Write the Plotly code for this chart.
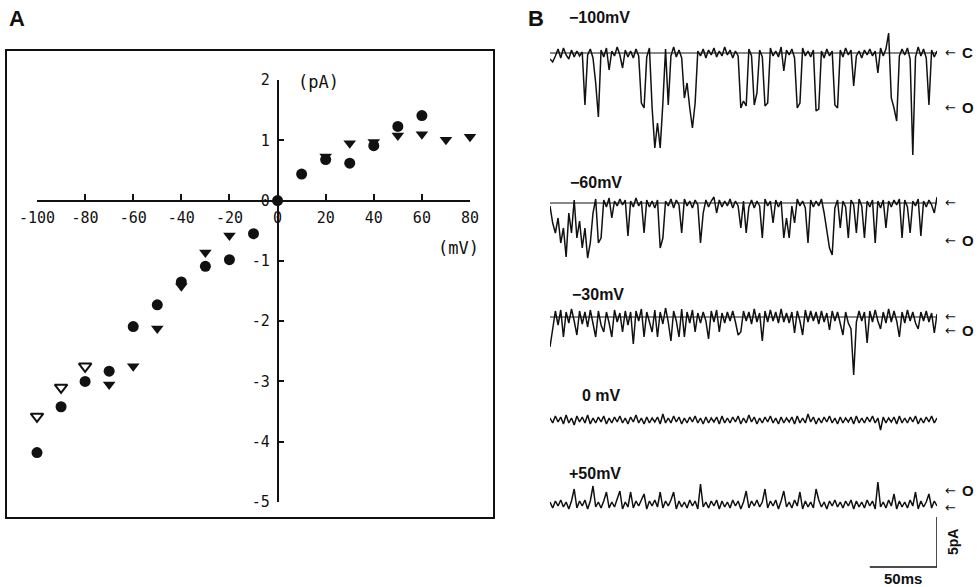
import plotly.graph_objects as go

W, H = 977, 587

def px(x):
    return x / W

def py(y):
    return 1 - y / H

# ---------------- Panel A data (I-V relation) ----------------
v_circle = [-100, -90, -80, -70, -60, -50, -40, -30, -20, -10, 0, 10, 20, 30, 40, 50, 60]
i_circle = [-4.18, -3.42, -3.00, -2.83, -2.09, -1.73, -1.35, -1.09, -0.98, -0.55, 0.0,
            0.44, 0.68, 0.62, 0.91, 1.23, 1.41]
v_tri = [-70, -60, -50, -40, -30, -20, 20, 30, 40, 50, 60, 70, 80]
i_tri = [-3.05, -2.75, -2.12, -1.42, -0.86, -0.58, 0.73, 0.95, 0.97, 1.08, 1.10, 1.01, 1.06]
v_open = [-100, -90, -80]
i_open = [-3.58, -3.10, -2.75]

x_tickvals = [-100, -80, -60, -40, -20, 0, 20, 40, 60, 80]
x_ticktext = ["-100", "-80", "-60", "-40", "-20", "0", "20", "40", "60", "80"]
y_tickvals = [2, 1, 0, -1, -2, -3, -4, -5]
y_ticktext = ["2", "1", "0", "-1", "-2", "-3", "-4", "-5"]

# ---------------- Panel B data (single-channel currents, pA, 2 ms samples) ----------------
trace_labels = ["\u2212100mV", "\u221260mV", "\u221230mV", "0 mV", "+50mV"]

cur_m100 = [-0.6, -0.9, -0.3, 0.4, -0.5, 0.5, -0.2, -0.6, 0.3, -0.4,
            0.2, -0.3, 0.1, -5.2, -0.2, 0.4, -0.5, -3.0, -6.4, 0.3,
            -0.4, 0.5, -1.7, 0.2, -0.3, 0.6, -0.2, -1.5, 0.3, -0.4,
            0.2, -0.5, 0.4, -0.3, -5.0, -5.5, -0.4, 0.5, -5.5, -9.5,
            -7.0, -9.5, -5.0, 0.4, -5.2, -0.3, 0.6, -0.4, 0.3, -0.5,
            -4.5, -3.0, -5.5, -7.5, -5.0, 0.2, -0.3, 0.4, -0.5, 0.3,
            -0.2, 0.5, -0.4, 0.2, -0.3, 0.6, -0.2, 0.3, -0.5, 0.2,
            -0.3, -5.5, -4.8, -5.3, 0.4, -0.3, -5.2, -4.0, 0.3, -0.4,
            -5.3, -5.0, 0.5, -0.3, 0.2, -0.4, 0.6, -1.8, 0.3, -0.2,
            0.4, -0.5, -5.5, -5.0, 0.5, -0.3, 0.2, -0.4, 0.3, -5.8,
            -5.6, 0.2, -0.5, 0.4, -0.3, 0.2, -5.2, -5.5, 0.3, -0.4,
            0.5, -0.2, 0.3, -3.3, -0.3, 0.2, -0.5, 0.3, -0.2, 0.4,
            -0.3, 0.2, -2.0, 0.5, -0.3, 0.4, 2.0, -4.5, -5.5, -6.8,
            -0.3, 0.4, -0.2, 0.5, -0.6, -10.2, -0.4, 0.6, -0.3, 0.4,
            -0.5, -5.2, 0.3, -0.4, 0.2]

cur_m60 = [-0.3, -2.0, -3.0, -1.5, -4.0, -2.5, -5.4, -1.0, -3.0, 0.3,
           -3.5, -1.8, -4.5, -2.5, -5.5, -4.0, -1.0, 0.4, -4.0, -3.5,
           0.3, -0.4, 0.5, -1.5, 0.2, -0.3, 0.4, -0.2, 0.3, -3.3,
           0.2, -0.4, 0.5, -0.3, 0.2, -3.0, 0.3, -0.4, 0.2, -0.5,
           0.3, -4.5, -3.5, 0.2, -0.3, 0.4, -0.5, 0.3, -0.2, -3.0,
           0.4, -0.3, 0.2, -0.5, 0.3, -0.2, -4.0, -1.0, 0.3, -0.4,
           0.2, 0.6, -1.0, 0.3, -0.4, 0.2, -0.3, 0.4, -0.5, 0.2,
           -0.3, -2.5, 0.2, -3.0, -0.4, 0.3, -0.5, 0.2, -0.3, -3.5,
           0.4, -0.3, 0.2, -2.0, 0.3, -0.4, 0.2, -3.5, -1.5, -3.5,
           -0.3, -2.0, 0.4, -0.3, 0.2, -0.5, -4.0, 0.3, -0.4, 0.2,
           -0.3, 0.4, -1.0, -3.0, -4.5, -5.2, -0.5, 0.3, -2.5, 0.2,
           -0.4, -3.5, 0.3, -0.2, -3.0, 0.4, -0.3, -3.5, 0.2, -0.4,
           0.3, -4.0, 0.2, -0.5, 0.3, -2.5, 0.2, -0.4, 0.3, -0.2,
           0.4, -3.5, 0.3, -0.4, -3.0, 0.2, -0.3, 0.4, -3.3, 0.2,
           -0.4, 0.3, -0.2, -1.0, 0.6]

cur_m30 = [-3.0, -1.0, 0.6, -0.8, 0.7, -2.0, 0.5, -0.6, 0.8, -0.4,
           -1.8, 0.6, -0.7, 0.5, -1.0, 0.7, -0.5, -2.0, 0.6, -0.8,
           -1.5, 0.5, -0.6, -2.0, 0.7, -0.5, 0.4, -1.5, 0.6, -0.8,
           0.5, -2.7, 0.6, -0.4, 0.8, -2.0, 0.5, -0.6, -1.5, 0.7,
           -2.0, 0.5, -0.7, 0.9, -0.5, -2.4, 0.6, -0.4, -2.0, 0.8,
           -2.0, 0.5, -0.6, 0.7, -1.5, 0.4, -0.6, 0.5, -0.4, -2.2,
           0.6, -0.5, 0.7, -1.5, 0.4, -0.6, 0.5, -0.4, 0.6, -0.5,
           -1.8, -1.5, 0.6, -0.4, 0.5, -0.7, 0.8, -0.5, 0.4, -2.4,
           0.6, -0.5, 0.7, -0.4, 0.5, -0.6, 0.8, -0.5, 0.4, -0.6,
           0.5, -1.6, 0.6, -0.4, -1.8, 0.7, -0.5, 0.6, -0.4, 0.5,
           -0.7, 0.6, -0.5, 0.4, -1.3, 0.6, -0.4, 0.5, -0.8, -1.8,
           0.5, -0.6, -1.2, -5.8, -0.5, 0.6, -0.4, 0.5, -2.6, 0.6,
           -0.5, 0.7, -0.4, -1.2, 0.5, -0.6, 0.8, -0.5, 0.6, -0.4,
           -2.0, 0.5, -0.6, 0.7, -0.4, 0.5, -0.6, -1.2, 0.5, -0.4,
           0.6, -0.5, 0.4, -1.6, 0.3]

cur_0 = [0.2, -0.3, 0.4, -0.2, 0.3, -0.4, 0.5, -0.3, 0.2, -0.5, 0.4, -0.2, 0.3, -0.3, 0.5, -0.4, 0.2, -0.3, 0.3, -0.2,
         0.4, -0.4, 0.2, -0.3, 0.3, -0.2, 0.4, -0.3, 0.2, -0.4, 0.3, -0.2, 0.5, -0.3, 0.2, -0.4, 0.3, -0.3, 0.2, -0.2,
         0.3, -0.4, 0.6, -0.3, 0.2, -0.3, 0.4, -0.2, 0.3, -0.4, 0.2, -0.3, 0.3, -0.2, 0.4, -0.3, 0.2, -0.4, 0.3, -0.3,
         0.2, -0.2, 0.3, -0.4, 0.4, -0.3, 0.2, -0.3, 0.3, -0.2, 0.4, -0.4, 0.2, -0.3, 0.5, -0.2, 0.3, -0.4, 0.2, -0.3,
         0.3, -0.2, 0.4, -0.3, 0.2, -0.4, 0.3, -0.3, 0.2, -0.2, 0.3, -0.4, 0.4, -0.3, 0.2, -0.3, 0.6, -0.2, 0.3, -0.4,
         0.2, -0.3, 0.3, -0.2, 0.4, -0.3, 0.2, -0.4, 0.3, -0.3, 0.2, -0.2, 0.3, -0.4, 0.4, -0.3, 0.2, -0.3, 0.3, -0.2,
         0.4, -0.3, 0.2, -1.0, 0.3, -0.3, 0.2, -0.2, 0.3, -0.4, 0.4, -0.3, 0.2, -0.3, 0.3, -0.2, 0.4, -0.4, 0.2, -0.3,
         0.3, -0.2, 0.4, -0.3, 0.2]

cur_p50 = [0.2, -0.4, 0.3, -0.2, 0.4, -0.3, 0.2, -0.5, 0.3, 1.5, -0.4, 0.3, -0.2, 0.4, -0.5, 0.3, 1.8, -0.3, 0.2, -0.4,
           0.3, 1.2, -0.4, 0.2, -0.3, 0.4, 1.3, -0.5, 0.2, -0.3, 1.2, -0.4, 0.3, -0.2, 0.4, 1.0, -0.5, 0.3, -0.2, 0.4,
           -0.3, 1.2, -0.4, 0.3, -0.2, 0.4, 1.2, -0.5, 0.3, -0.3, 0.2, -0.4, 0.4, -0.2, 0.3, -0.5, 2.0, -0.3, 0.2, -0.4,
           0.3, -0.2, 0.4, -0.5, 0.3, -0.3, 0.2, -0.4, 0.4, -0.2, 0.3, -0.5, 0.2, 1.3, -0.4, 0.3, -0.2, 0.4, -0.3, 0.2,
           1.5, -0.4, 0.3, -0.2, 0.4, -0.5, 0.3, 1.3, -0.3, 0.2, -0.4, 0.4, -0.2, 1.2, -0.5, 0.3, -0.3, 0.2, -0.4, 1.5,
           0.4, -0.3, 0.2, -0.5, 0.3, -0.2, 0.4, -0.3, 0.2, -0.4, 0.3, -0.2, 0.4, -0.5, 0.3, -0.3, 0.2, -0.4, 0.4, -0.2,
           0.3, -0.5, 2.2, -0.3, 0.2, -0.4, 0.4, -0.2, 1.0, -0.5, 0.3, -0.3, 0.2, -0.4, 0.4, -0.2, 1.2, -0.5, 0.3, -0.3,
           0.2, 1.0, -0.4, 0.3, -0.2]

SAMPLE_MS = 2
SCALE_MS = 50
SCALE_PA = 5

# layout constants (positions only)
trace_offsets = [-3.3, -18.3, -29.7, -40.0, -48.4]   # vertical stacking of traces (pA units on the hidden axis)
baseline_lines = [True, True, True, False, False]
label_px_y = [17, 182, 295, 395, 473]
label_px_x = [567, 568, 570, 580, 567]

BLACK = "#111111"
TICKFONT = dict(family="DejaVu Sans Mono", size=15, color=BLACK)

fig = go.Figure()

# ---- Panel A markers ----
fig.add_trace(go.Scatter(x=v_circle, y=i_circle, mode="markers", cliponaxis=False,
                         marker=dict(symbol="circle", size=11, color=BLACK, line=dict(width=0)),
                         xaxis="x", yaxis="y", showlegend=False))
fig.add_trace(go.Scatter(x=v_tri, y=i_tri, mode="markers", cliponaxis=False,
                         marker=dict(symbol="triangle-down", size=11, color=BLACK, line=dict(width=0)),
                         xaxis="x", yaxis="y", showlegend=False))
fig.add_trace(go.Scatter(x=v_open, y=i_open, mode="markers", cliponaxis=False,
                         marker=dict(symbol="triangle-down-open", size=11, color=BLACK, line=dict(width=2, color=BLACK)),
                         xaxis="x", yaxis="y", showlegend=False))

# ---- Panel B traces ----
currents = [cur_m100, cur_m60, cur_m30, cur_0, cur_p50]
for vals, off in zip(currents, trace_offsets):
    t = [i * SAMPLE_MS for i in range(len(vals))]
    fig.add_trace(go.Scatter(x=t, y=[v + off for v in vals], mode="lines",
                             line=dict(color=BLACK, width=1.5), xaxis="x2", yaxis="y2",
                             showlegend=False, hoverinfo="skip"))

t_end = (len(cur_m100) - 1) * SAMPLE_MS

# axes geometry
xdomA = [px(37), px(470)]
ydomA = [py(502), py(80)]
xr = [-100, 80]
yr = [-5, 2]
x_axis_pos = ydomA[0] + (0 - yr[0]) / (yr[1] - yr[0]) * (ydomA[1] - ydomA[0])
y_axis_pos = xdomA[0] + (0 - xr[0]) / (xr[1] - xr[0]) * (xdomA[1] - xdomA[0])

shapes = []
# frame of panel A
shapes.append(dict(type="rect", xref="paper", yref="paper", x0=px(6), x1=px(494), y0=py(518), y1=py(50),
                   line=dict(color=BLACK, width=2)))
# baseline (closed level) lines in panel B
for off, show in zip(trace_offsets, baseline_lines):
    if show:
        shapes.append(dict(type="line", xref="x2", yref="y2", x0=0, x1=t_end, y0=off, y1=off,
                           line=dict(color=BLACK, width=1)))
# scale bars
ybar_bottom = trace_offsets[-1] - 1.3
shapes.append(dict(type="line", xref="x2", yref="y2", x0=t_end, x1=t_end,
                   y0=ybar_bottom - SCALE_PA, y1=ybar_bottom, line=dict(color=BLACK, width=1.5)))
shapes.append(dict(type="line", xref="x2", yref="y2", x0=t_end - SCALE_MS, x1=t_end,
                   y0=ybar_bottom - SCALE_PA, y1=ybar_bottom - SCALE_PA, line=dict(color=BLACK, width=1.5)))

annotations = []
LBL = dict(family="Liberation Sans, Arial, sans-serif", size=16, color=BLACK)
annotations.append(dict(text="<b>A</b>", x=px(7), y=py(18), xref="paper", yref="paper", showarrow=False,
                        xanchor="left", yanchor="middle", font=dict(family="Liberation Sans, Arial", size=22, color=BLACK)))
annotations.append(dict(text="<b>B</b>", x=px(526), y=py(18), xref="paper", yref="paper", showarrow=False,
                        xanchor="left", yanchor="middle", font=dict(family="Liberation Sans, Arial", size=22, color=BLACK)))
annotations.append(dict(text="(pA)", x=px(296), y=py(82), xref="paper", yref="paper", showarrow=False,
                        xanchor="left", yanchor="middle", font=dict(family="DejaVu Sans Mono", size=17, color=BLACK)))
annotations.append(dict(text="(mV)", x=px(481), y=py(248), xref="paper", yref="paper", showarrow=False,
                        xanchor="right", yanchor="middle", font=dict(family="DejaVu Sans Mono", size=17, color=BLACK)))
for lab, lx, ly in zip(trace_labels, label_px_x, label_px_y):
    annotations.append(dict(text="<b>" + lab + "</b>", x=px(lx), y=py(ly), xref="paper", yref="paper",
                            showarrow=False, xanchor="left", yanchor="middle", font=LBL))
# level markers at the right of the traces: (letter, y px)
arrow_marks = [("C", 53), ("O", 107), ("", 203), ("O", 240),
               ("", 316), ("O", 330), ("O", 490), ("", 507)]
for letter, yy in arrow_marks:
    annotations.append(dict(text="\u2190", x=px(943), y=py(yy), xref="paper", yref="paper",
                            showarrow=False, xanchor="left", yanchor="middle",
                            font=dict(family="DejaVu Sans, sans-serif", size=13, color=BLACK)))
    if letter:
        annotations.append(dict(text="<b>" + letter + "</b>", x=px(960), y=py(yy), xref="paper", yref="paper",
                                showarrow=False, xanchor="left", yanchor="middle",
                                font=dict(family="Liberation Sans, Arial", size=15, color=BLACK)))
annotations.append(dict(text="<b>5pA</b>", x=t_end, y=ybar_bottom - SCALE_PA / 2, xref="x2", yref="y2",
                        xshift=16, showarrow=False, textangle=-90, xanchor="center", yanchor="middle",
                        font=dict(family="Liberation Sans, Arial", size=14, color=BLACK)))
annotations.append(dict(text="<b>50ms</b>", x=t_end - SCALE_MS / 2, y=ybar_bottom - SCALE_PA, xref="x2", yref="y2",
                        yshift=-11, showarrow=False, xanchor="center", yanchor="middle",
                        font=dict(family="Liberation Sans, Arial", size=15, color=BLACK)))

fig.update_layout(
    width=W, height=H,
    margin=dict(l=0, r=0, t=0, b=0),
    paper_bgcolor="white", plot_bgcolor="rgba(0,0,0,0)",
    showlegend=False,
    xaxis=dict(domain=xdomA, range=xr, anchor="free", position=x_axis_pos,
               showline=True, linecolor=BLACK, linewidth=1.5, ticks="inside", ticklen=6, tickwidth=1.5,
               tickcolor=BLACK, tickvals=x_tickvals, ticktext=x_ticktext, tickfont=TICKFONT,
               ticklabelstandoff=4,
               showgrid=False, zeroline=False, automargin=False, fixedrange=True),
    yaxis=dict(domain=ydomA, range=yr, anchor="free", position=y_axis_pos,
               showline=True, linecolor=BLACK, linewidth=1.5, ticks="inside", ticklen=6, tickwidth=1.5,
               tickcolor=BLACK, tickvals=y_tickvals, ticktext=y_ticktext, tickfont=TICKFONT,
               ticklabelstandoff=4,
               showgrid=False, zeroline=False, automargin=False, fixedrange=True),
    xaxis2=dict(domain=[px(550), px(937)], range=[0, t_end], anchor="y2", visible=False, fixedrange=True),
    yaxis2=dict(domain=[py(580), py(20)], range=[-56, 0], anchor="x2", visible=False, fixedrange=True),
    shapes=shapes,
    annotations=annotations,
)

fig.write_html("out.html", config={"displayModeBar": False},
               post_script="document.body.style.margin='0';document.body.style.overflow='hidden';")
